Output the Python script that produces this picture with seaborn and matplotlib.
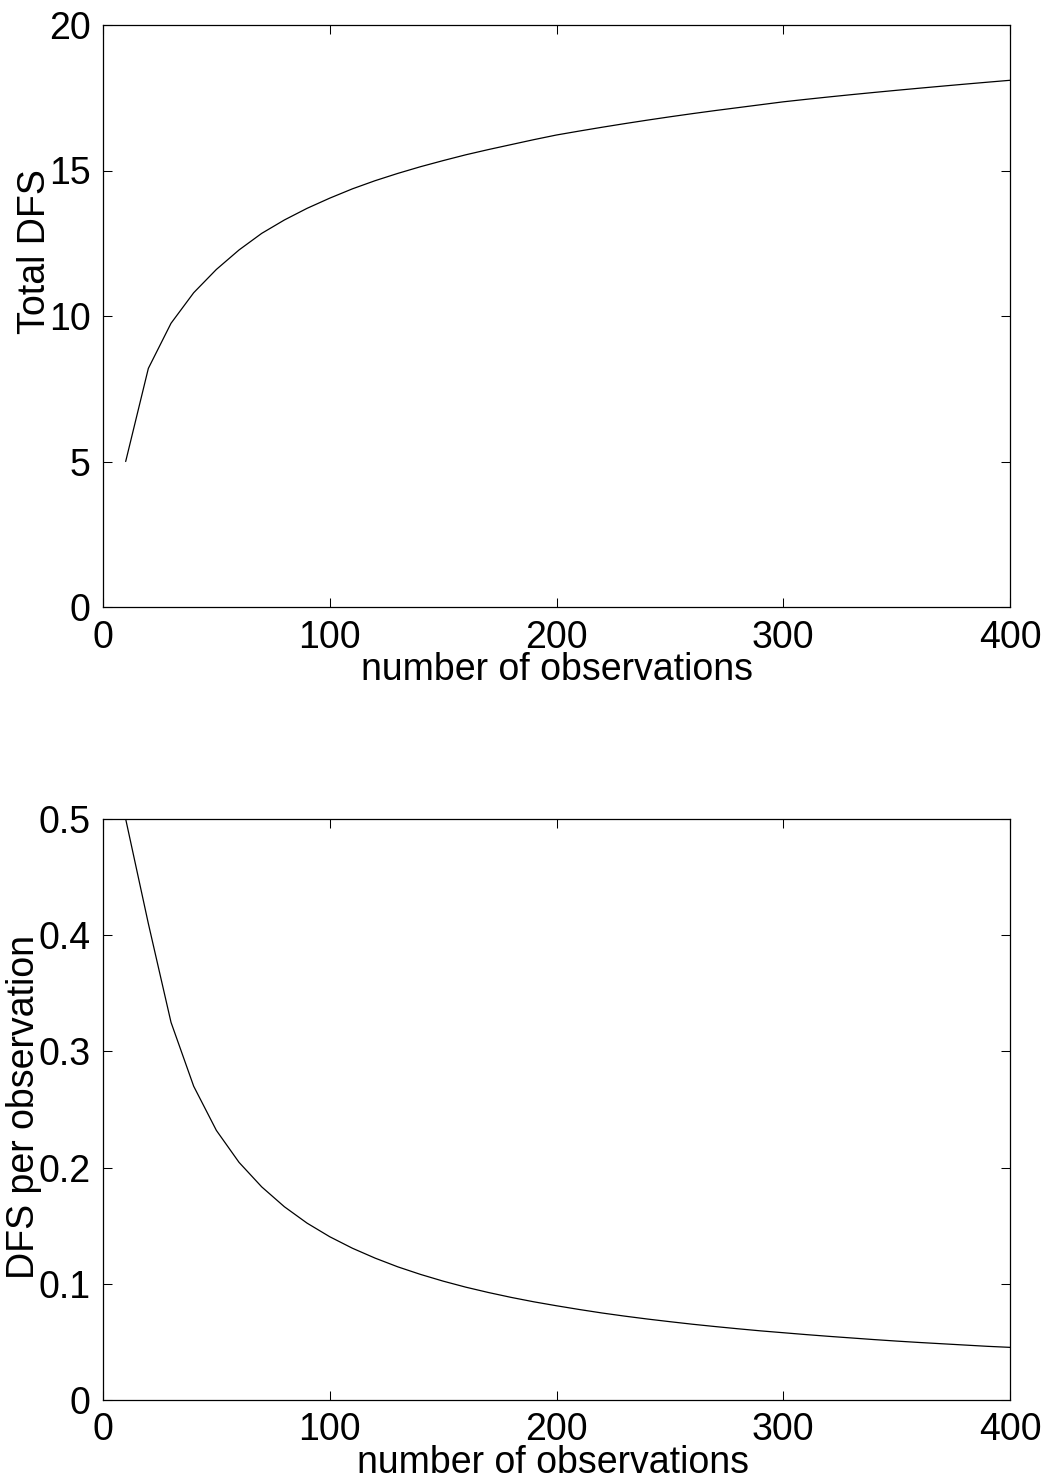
import matplotlib
matplotlib.use("Agg")
import matplotlib.pyplot as plt
import seaborn as sns
import pandas as pd

# ---- data ----
n_obs = [10, 20, 30, 40, 50, 60, 70, 80, 90, 100,
         110, 120, 130, 140, 150, 160, 170, 180, 190, 200,
         210, 220, 230, 240, 250, 260, 270, 280, 290, 300,
         310, 320, 330, 340, 350, 360, 370, 380, 390, 400]
total_dfs = [5.00, 8.20, 9.75, 10.80, 11.60, 12.27, 12.84, 13.30, 13.70, 14.05,
             14.37, 14.65, 14.90, 15.13, 15.34, 15.54, 15.72, 15.89, 16.06, 16.22,
             16.355, 16.485, 16.61, 16.73, 16.845, 16.955, 17.06, 17.16, 17.26, 17.36,
             17.445, 17.527, 17.606, 17.682, 17.756, 17.828, 17.898, 17.967, 18.034, 18.10]
dfs_per_obs = [0.500, 0.410, 0.325, 0.270, 0.232, 0.2045, 0.1834, 0.1663, 0.1522, 0.1405,
               0.1306, 0.1221, 0.1146, 0.1081, 0.1023, 0.0971, 0.0925, 0.0883, 0.0845, 0.0811,
               0.0779, 0.0749, 0.0722, 0.0697, 0.0674, 0.0652, 0.0632, 0.0613, 0.0595, 0.0579,
               0.0563, 0.0548, 0.0534, 0.0520, 0.0507, 0.0495, 0.0484, 0.0473, 0.0462, 0.0453]

x_ticks = [0, 100, 200, 300, 400]
x_ticklabels = ["0", "100", "200", "300", "400"]
top_yticks = [0, 5, 10, 15, 20]
top_yticklabels = ["0", "5", "10", "15", "20"]
bot_yticks = [0, 0.1, 0.2, 0.3, 0.4, 0.5]
bot_yticklabels = ["0", "0.1", "0.2", "0.3", "0.4", "0.5"]

xlabel = "number of observations"
top_ylabel = "Total DFS"
bot_ylabel = "DFS per observation"

df = pd.DataFrame({"n": n_obs, "total": total_dfs, "per": dfs_per_obs})

sns.set_style("ticks")
plt.rcParams["font.family"] = ["Liberation Sans", "DejaVu Sans"]
plt.rcParams["text.color"] = "black"
FS = 27

W, H = 1052, 1479
fig = plt.figure(figsize=(W / 100, H / 100), dpi=100)
fig.patch.set_facecolor("white")

def px_axes(left, top, right, bottom):
    return fig.add_axes([left / W, 1 - bottom / H, (right - left) / W, (bottom - top) / H])

ax1 = px_axes(103, 25, 1010, 607)
ax2 = px_axes(103, 819, 1010, 1400)

for ax, col, yt, ytl in [(ax1, "total", top_yticks, top_yticklabels),
                         (ax2, "per", bot_yticks, bot_yticklabels)]:
    sns.lineplot(data=df, x="n", y=col, color="black", linewidth=0.9, ax=ax)
    ax.set_xlim(0, 400)
    ax.set_ylim(yt[0], yt[-1])
    ax.set_xticks(x_ticks)
    ax.set_xticklabels(x_ticklabels)
    ax.set_yticks(yt)
    ax.set_yticklabels(ytl)
    ax.set_xlabel("")
    ax.set_ylabel("")
    ax.set_facecolor("white")
    for s in ax.spines.values():
        s.set_visible(True)
        s.set_linewidth(0.9)
        s.set_color("black")
    ax.tick_params(direction="in", top=True, right=True, length=6.5, width=0.75,
                   labelsize=FS, pad=9, colors="black")

# axis labels placed to match the reference
fig.text(557 / W, 1 - 680 / H, xlabel, ha="center", va="baseline", fontsize=FS, color="black")
fig.text(553 / W, 1 - 1473 / H, xlabel, ha="center", va="baseline", fontsize=FS, color="black")
fig.text(45 / W, 1 - 252 / H, top_ylabel, rotation=90, rotation_mode="anchor",
         ha="center", va="baseline", fontsize=FS, color="black")
fig.text(34 / W, 1 - 1107 / H, bot_ylabel, rotation=90, rotation_mode="anchor",
         ha="center", va="baseline", fontsize=FS, color="black")

fig.savefig("out.png", dpi=100, facecolor="white")
